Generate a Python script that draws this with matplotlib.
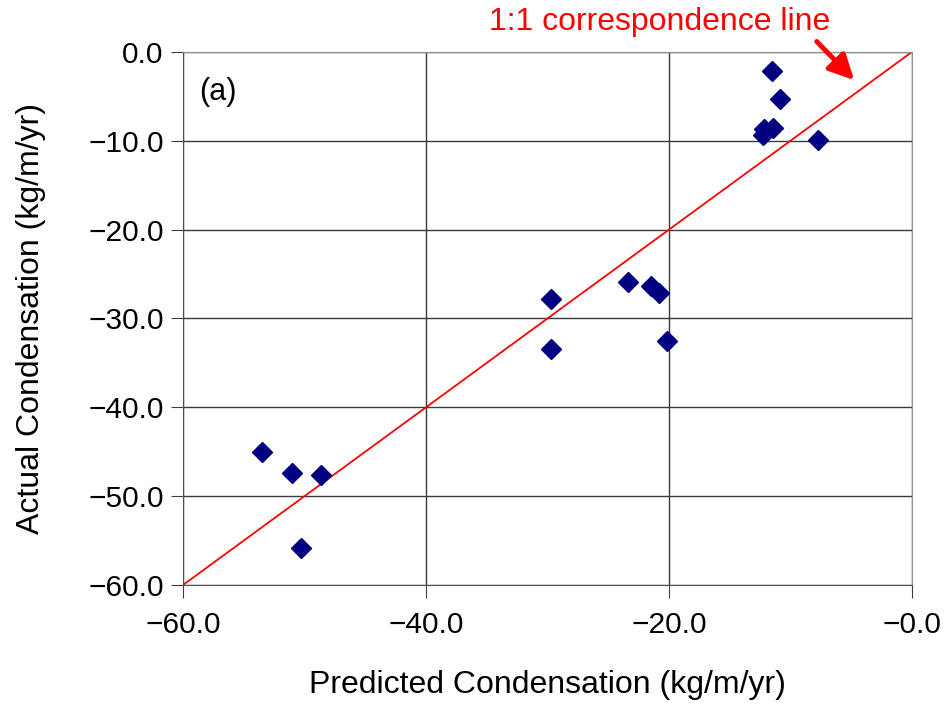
import matplotlib
matplotlib.use("Agg")
import matplotlib.pyplot as plt
from matplotlib.ticker import FuncFormatter

plt.rcParams['font.family'] = ['Liberation Sans', 'DejaVu Sans']

predicted = [-11.5, -10.9, -12.2, -12.3, -11.4, -7.7,
             -29.7, -23.4, -21.5, -20.8, -29.7, -20.2,
             -53.5, -51.0, -48.6, -50.3]
actual = [-2.2, -5.3, -8.7, -9.3, -8.6, -9.9,
          -27.8, -25.9, -26.4, -27.1, -33.4, -32.5,
          -45.0, -47.4, -47.6, -55.8]
x_ticks = [-60, -40, -20, 0]
y_ticks = [0, -10, -20, -30, -40, -50, -60]
line_ends = [-60, 0]

fig = plt.figure(figsize=(9.48, 7.08), dpi=100)
ax = fig.add_axes([0.193, 0.1737, 0.769, 0.753])
ax.set_xlim(-60, 0)
ax.set_ylim(-60, 0)
ax.set_xticks(x_ticks)
ax.set_yticks(y_ticks)

fmt = FuncFormatter(lambda v, p: ("\u22120.0" if v == 0 else f"{v:.1f}".replace("-", "\u2212")))
fmty = FuncFormatter(lambda v, p: ("0.0" if v == 0 else f"{v:.1f}".replace("-", "\u2212")))
ax.xaxis.set_major_formatter(fmt)
ax.yaxis.set_major_formatter(fmty)

ax.grid(True, color='#3a3a3a', lw=1.0)
ax.set_axisbelow(True)
for s in ['top', 'right']:
    ax.spines[s].set_color('#909090')
for s in ['left', 'bottom']:
    ax.spines[s].set_color('#505050')
ax.tick_params(axis='both', labelsize=21.5, length=9, color='#404040', direction='out')
ax.tick_params(axis='x', pad=10)
ax.tick_params(axis='y', pad=5)

ax.plot(line_ends, line_ends, color='red', lw=1.3, zorder=2)
ax.plot(predicted, actual, linestyle='none', marker='D', color='#000080',
        markersize=10, zorder=3)

ax.text(-57.1, -4.5, "(a)", fontsize=22, ha='center', va='center')

ax.set_xlabel("Predicted Condensation (kg/m/yr)", fontsize=23, labelpad=22)
ax.set_ylabel("Actual Condensation (kg/m/yr)", fontsize=23, labelpad=30)

ax.text(-20.8, 3.4, "1:1 correspondence line", color='red', fontsize=23,
        ha='center', va='center', clip_on=False)
ax.annotate("", xy=(-4.6, -3.4), xytext=(-8.0, 1.4),
            arrowprops=dict(arrowstyle='-|>', color='red', lw=3.5, mutation_scale=38),
            annotation_clip=False)

fig.savefig("out.png", dpi=100)
